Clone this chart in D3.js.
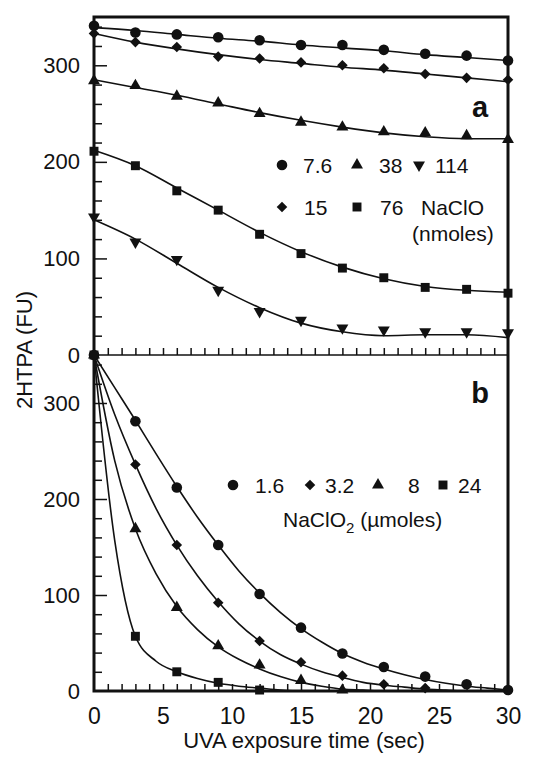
<html>
<head>
<style>
  body { margin: 0; background: #fff; }
  text { font-family: "Liberation Sans", Arial, sans-serif; fill: #111; }
  .axis path { display: none; }
  .axis line { stroke: #111; stroke-width: 1.5px; }
  .axis text { font-size: 22px; }
  .fit { fill: none; stroke: #111; stroke-width: 1.6px; }
</style>
</head>
<body>
<script src="https://d3js.org/d3.v7.min.js"></script>
<script>
// sampling times of the measured points (sec)
var time = [0, 3, 6, 9, 12, 15, 18, 21, 24, 27, 30];

// panel a: NaClO (nmoles)
var topLabels = ["7.6", "15", "38", "76", "114"];
var topCircle = [341, 334, 332, 329, 326, 321, 321, 316, 312, 310, 305];
var topDiamond = [333, 324, 319, 309, 307, 303, 300, 297, 291, 287, 285];
var topTriangle = [284, 279, 268, 261, 250, 241, 236, 231, 230, 227, 223];
var topSquare = [211, 196, 170, 150, 125, 105, 90, 80, 70, 68, 64];
var topInvTri = [143, 117, 99, 67, 45, 36, 28, 26, 24, 24, 23];

// fitted curves of panel a (read at every 3 sec)
var fitTopCircle = [339, 336, 332, 328, 325, 321, 318, 315, 311, 308, 305];
var fitTopDiamond = [333, 324, 317, 311, 306, 302, 298, 295, 291, 287, 283];
var fitTopTriangle = [285, 277, 269, 260, 251, 243, 236, 230, 226, 224, 224];
var fitTopSquare = [212, 196, 173, 150, 127, 107, 91, 79, 71, 67, 65];
var fitTopInvTri = [140, 120, 95, 70, 49, 33, 24, 20, 21, 21, 18];

// panel b: NaClO2 (umoles)
var botLabels = ["1.6", "3.2", "8", "24"];
var botCircle = [350, 281, 212, 152, 101, 66, 39, 25, 15, 7, 1];
var botDiamond = [350, 236, 152, 92, 52, 30, 16, 7, 3];
var botTriangle = [350, 169, 87, 47, 27, 11, 1];
var botSquare = [350, 57, 20, 9, 1];

// fitted curves of panel b (read at every 1.5 sec)
var fitTimeBot = d3.range(0, 30.01, 1.5);
var fitBotCircle = [350, 316, 282, 247, 213, 181, 152, 125, 102, 82, 65, 51, 39, 30, 23, 17, 12, 8, 5, 3, 1];
var fitBotDiamond = [350, 288, 236, 190, 152, 120, 93, 70, 52, 38, 28, 20, 14, 9, 6, 4, 2, 1, 0, 0, 0];
var fitBotTriangle = [350, 240, 169, 122, 88, 64, 46, 33, 23, 15, 9, 5, 2, 1, 0, 0, 0, 0, 0, 0, 0];
var fitBotSquare = [350, 157, 57, 31, 20, 13, 8, 5, 3, 1, 0, 0, 0, 0, 0, 0, 0, 0, 0, 0, 0];

var width = 544, height = 760;
var svg = d3.select("body").append("svg")
    .attr("width", width)
    .attr("height", height);

var x = d3.scaleLinear().domain([0, 30]).range([94, 508]);
var yTop = d3.scaleLinear().domain([0, 350]).range([355, 17]);
var yBot = d3.scaleLinear().domain([0, 350]).range([691, 355]);

// marker shapes
function marker(kind) {
    if (kind == "circle") return { path: d3.symbol(d3.symbolCircle, 88)(), rot: 0 };
    if (kind == "diamond") return { path: d3.symbol(d3.symbolSquare, 56)(), rot: 45 };
    if (kind == "triangle") return { path: d3.symbol(d3.symbolTriangle, 62)(), rot: 0 };
    if (kind == "invtri") return { path: d3.symbol(d3.symbolTriangle, 62)(), rot: 180 };
    return { path: d3.symbol(d3.symbolSquare, 80)(), rot: 0 };
}

function drawMarker(g, kind, cx, cy) {
    var m = marker(kind);
    g.append("path")
        .attr("d", m.path)
        .attr("fill", "#111")
        .attr("transform", "translate(" + cx + "," + cy + ") rotate(" + m.rot + ")");
}

function drawSeries(y, fitT, fit, vals, kind) {
    var line = d3.line()
        .x(function (d) { return x(d[0]); })
        .y(function (d) { return y(d[1]); })
        .curve(d3.curveMonotoneX);
    svg.append("path")
        .attr("class", "fit")
        .attr("d", line(fitT.map(function (t, i) { return [t, fit[i]]; })));
    var g = svg.append("g");
    vals.forEach(function (v, i) {
        drawMarker(g, kind, x(time[i]), y(v));
    });
}

// y axes with minor ticks every 20
function yAxis(y, maxV) {
    var g = svg.append("g")
        .attr("class", "axis")
        .attr("transform", "translate(" + x(0) + ",0)")
        .call(d3.axisLeft(y)
            .tickValues(d3.range(0, maxV + 1, 20))
            .tickSize(-8)
            .tickPadding(14)
            .tickFormat(function (d) { return d % 100 == 0 ? d : ""; }));
    g.selectAll(".tick line")
        .attr("x2", function (d) { return d % 100 == 0 ? 13 : 8; });
    g.selectAll(".tick").filter(function (d) { return d == 0; }).select("line").remove();
    return g;
}
yAxis(yTop, 340);
yAxis(yBot, 340);

// x ticks every 1 sec on the middle line and on the bottom axis
svg.append("g")
    .attr("class", "axis")
    .attr("transform", "translate(0," + yTop(0) + ")")
    .call(d3.axisBottom(x).tickValues(d3.range(1, 30)).tickSize(-7).tickFormat(""));

var xg = svg.append("g")
    .attr("class", "axis")
    .attr("transform", "translate(0," + yBot(0) + ")")
    .call(d3.axisBottom(x)
        .tickValues(d3.range(0, 31, 1))
        .tickSize(-7)
        .tickPadding(17)
        .tickFormat(function (d) { return d % 5 == 0 ? d : ""; }));
xg.selectAll(".tick line").filter(function (d) { return d == 0 || d == 30; }).remove();
xg.selectAll(".tick text").style("font-size", "23px");

// frame and middle line
svg.append("line")
    .attr("x1", x(0)).attr("x2", x(30))
    .attr("y1", yTop(0)).attr("y2", yTop(0))
    .attr("stroke", "#111").attr("stroke-width", 1.5);
svg.append("rect")
    .attr("x", x(0)).attr("y", yTop(350))
    .attr("width", x(30) - x(0)).attr("height", yBot(0) - yTop(350))
    .attr("fill", "none").attr("stroke", "#111").attr("stroke-width", 3);

// series, panel a
drawSeries(yTop, time, fitTopCircle, topCircle, "circle");
drawSeries(yTop, time, fitTopDiamond, topDiamond, "diamond");
drawSeries(yTop, time, fitTopTriangle, topTriangle, "triangle");
drawSeries(yTop, time, fitTopSquare, topSquare, "square");
drawSeries(yTop, time, fitTopInvTri, topInvTri, "invtri");

// series, panel b
drawSeries(yBot, fitTimeBot, fitBotCircle, botCircle, "circle");
drawSeries(yBot, fitTimeBot, fitBotDiamond, botDiamond, "diamond");
drawSeries(yBot, fitTimeBot, fitBotTriangle, botTriangle, "triangle");
drawSeries(yBot, fitTimeBot, fitBotSquare, botSquare, "square");

// panel letters
svg.append("text").attr("x", 480).attr("y", 117).attr("text-anchor", "middle")
    .style("font-size", "29px").style("font-weight", "bold").text("a");
svg.append("text").attr("x", 480).attr("y", 403).attr("text-anchor", "middle")
    .style("font-size", "29px").style("font-weight", "bold").text("b");

// legend, panel a
var lg = svg.append("g").style("font-size", "21px");
var topKinds = ["circle", "diamond", "triangle", "square", "invtri"];
var topLegendPos = [[282, 165], [282, 207], [357, 165], [357, 207], [419, 165]];
var topTextX = [303, 304, 379, 380, 435];
topLabels.forEach(function (lab, i) {
    drawMarker(lg, topKinds[i], topLegendPos[i][0], topLegendPos[i][1]);
    lg.append("text").attr("x", topTextX[i]).attr("y", topLegendPos[i][1] + 7.5).text(lab);
});
lg.append("text").attr("x", 421).attr("y", 214.5).text("NaClO");
lg.append("text").attr("x", 412).attr("y", 240.5).text("(nmoles)");

// legend, panel b
var botKinds = ["circle", "diamond", "triangle", "square"];
var botMarkX = [233, 310, 378, 443];
var botTextX = [255, 325, 408, 458];
botLabels.forEach(function (lab, i) {
    drawMarker(lg, botKinds[i], botMarkX[i], 485);
    lg.append("text").attr("x", botTextX[i]).attr("y", 492.5).text(lab);
});
var sub = lg.append("text").attr("x", 283).attr("y", 527);
sub.append("tspan").text("NaClO");
sub.append("tspan").attr("dy", 6).style("font-size", "15px").text("2");
sub.append("tspan").attr("dy", -6).text(" (\u00b5moles)");

// axis titles
svg.append("text")
    .attr("x", (x(0) + x(30)) / 2 + 3).attr("y", 748)
    .attr("text-anchor", "middle").style("font-size", "22px")
    .text("UVA exposure time (sec)");
svg.append("text")
    .attr("transform", "translate(32,350) rotate(-90)")
    .attr("text-anchor", "middle").style("font-size", "22px")
    .text("2HTPA (FU)");
</script>
</body>
</html>
